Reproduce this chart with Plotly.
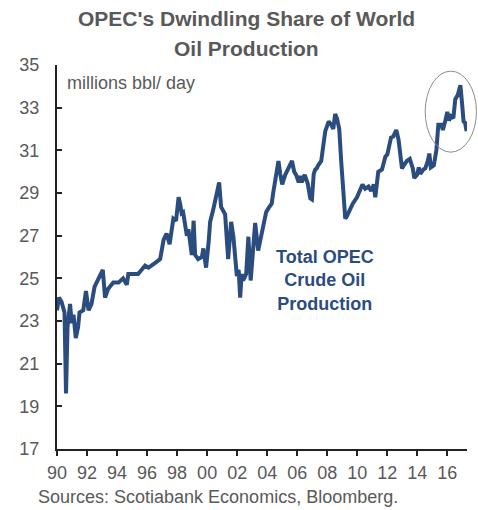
import plotly.graph_objects as go

years = [1990.0, 1990.13, 1990.3, 1990.5, 1990.6, 1990.7, 1990.87, 1990.98, 1991.1, 1991.25,
         1991.4, 1991.5, 1991.75, 1991.93, 1992.1, 1992.3, 1992.5, 1992.87, 1993.05, 1993.2,
         1993.4, 1993.75, 1994.1, 1994.4, 1994.65, 1994.75, 1995.2, 1995.4, 1995.87, 1996.1,
         1996.5, 1996.87, 1997.1, 1997.3, 1997.5, 1997.75, 1997.93, 1998.1, 1998.2, 1998.3,
         1998.4, 1998.65, 1998.75, 1998.87, 1998.98, 1999.1, 1999.2, 1999.4, 1999.65, 1999.75,
         1999.93, 2000.1, 2000.2, 2000.4, 2000.65, 2000.8, 2000.93, 2001.1, 2001.2, 2001.4,
         2001.6, 2001.75, 2001.98, 2002.1, 2002.2, 2002.3, 2002.4, 2002.6, 2002.75, 2002.9,
         2003.1, 2003.2, 2003.4, 2003.65, 2003.93, 2004.1, 2004.3, 2004.4, 2004.6, 2004.75,
         2004.87, 2005.0, 2005.2, 2005.4, 2005.65, 2005.8, 2005.93, 2006.1, 2006.2, 2006.3,
         2006.5, 2006.7, 2006.87, 2006.98, 2007.1, 2007.2, 2007.3, 2007.4, 2007.6, 2007.75,
         2007.87, 2008.1, 2008.27, 2008.4, 2008.53, 2008.65, 2008.8, 2008.93, 2009.1, 2009.2,
         2009.3, 2009.47, 2009.7, 2009.98, 2010.2, 2010.35, 2010.53, 2010.75, 2010.93, 2011.1,
         2011.2, 2011.4, 2011.65, 2011.87, 2012.0, 2012.25, 2012.4, 2012.6, 2012.75, 2012.98,
         2013.1, 2013.3, 2013.5, 2013.7, 2013.8, 2013.98, 2014.1, 2014.2, 2014.4, 2014.53,
         2014.7, 2014.8, 2014.9, 2015.1, 2015.27, 2015.4, 2015.6, 2015.7, 2015.87, 2016.0,
         2016.1, 2016.25, 2016.4, 2016.53, 2016.7, 2016.87, 2016.98, 2017.08, 2017.18, 2017.28]

opec_production = [23.5, 24.1, 23.9, 23.4, 19.6, 22.7, 23.8, 22.9, 23.3, 22.2,
                   22.7, 23.4, 23.5, 24.4, 23.5, 23.8, 24.6, 25.2, 25.4, 24.1,
                   24.5, 24.8, 24.8, 25.0, 24.7, 25.2, 25.2, 25.2, 25.6, 25.5,
                   25.7, 25.9, 26.8, 27.1, 26.6, 27.8, 27.7, 28.8, 28.5, 28.05,
                   28.1, 27.0, 27.3, 26.8, 26.1, 27.7, 26.1, 25.9, 26.0, 26.4,
                   25.5, 26.7, 27.65, 28.2, 29.0, 29.5, 28.35, 28.1, 28.0, 25.9,
                   27.65, 26.95, 25.1, 25.4, 24.1, 25.2, 24.9, 25.2, 26.95, 24.9,
                   26.5, 27.6, 26.3, 27.1, 28.1, 28.3, 28.5, 29.0, 29.8, 30.5,
                   29.9, 29.4, 29.85, 30.1, 30.5, 30.0, 29.85, 29.5, 29.8, 29.5,
                   29.85, 29.45, 28.75, 28.7, 29.9, 30.1, 30.15, 30.3, 30.5, 31.3,
                   31.9, 32.35, 32.2, 32.0, 32.7, 32.5, 32.0, 30.5, 28.7, 27.8,
                   27.9, 28.2, 28.5, 28.8, 29.2, 29.4, 29.2, 29.3, 29.1, 29.4,
                   28.8, 30.0, 30.1, 30.7, 30.8, 31.6, 31.65, 31.95, 31.5, 30.15,
                   30.3, 30.5, 30.6, 30.15, 29.7, 29.85, 30.2, 29.9, 30.1, 30.15,
                   30.5, 30.85, 30.2, 30.3, 31.0, 32.2, 32.2, 31.95, 32.4, 32.8,
                   32.4, 32.6, 32.5, 33.4, 33.6, 34.05, 33.2, 32.35, 32.3, 31.9]

x_tick_vals = [1990, 1992, 1994, 1996, 1998, 2000, 2002, 2004, 2006, 2008, 2010, 2012, 2014, 2016]
x_tick_text = ["90", "92", "94", "96", "98", "00", "02", "04", "06", "08", "10", "12", "14", "16"]
y_tick_vals = [17, 19, 21, 23, 25, 27, 29, 31, 33, 35]

FONT = "Liberation Sans, Arial, sans-serif"
GRAY = "#595959"
BLUE = "#2b4c7e"

fig = go.Figure()
fig.add_trace(go.Scatter(
    x=years, y=opec_production, mode="lines",
    line=dict(color=BLUE, width=4, shape="linear"),
    hoverinfo="skip", showlegend=False,
))

fig.update_layout(
    width=478, height=510,
    margin=dict(l=57, r=11, t=65, b=61),
    paper_bgcolor="white", plot_bgcolor="white",
    font=dict(family=FONT, size=18, color=GRAY),
    xaxis=dict(
        range=[1990, 2017.31], tickmode="array", tickvals=x_tick_vals, ticktext=x_tick_text,
        showline=True, linecolor="#222222", linewidth=2, ticks="outside", ticklen=5,
        tickcolor="#222222", tickwidth=1.5, showgrid=False, zeroline=False,
        tickfont=dict(family=FONT, size=18, color=GRAY), ticklabelstandoff=1,
    ),
    yaxis=dict(
        range=[17, 35], tickmode="array", tickvals=y_tick_vals,
        showline=True, linecolor="#222222", linewidth=2, ticks="inside", ticklen=5,
        tickcolor="#222222", tickwidth=1.5, showgrid=False, zeroline=False,
        tickfont=dict(family=FONT, size=18, color=GRAY), ticklabelstandoff=12,
    ),
    shapes=[dict(
        type="circle", xref="paper", yref="paper",
        x0=0.898, x1=1.023, y0=0.773, y1=0.984,
        line=dict(color="#8c8c8c", width=1), layer="above",
    )],
    annotations=[
        dict(text="<b>OPEC's Dwindling Share of World</b>", xref="paper", yref="paper",
             x=0.461, y=1.122, xanchor="center", yanchor="middle", showarrow=False,
             font=dict(family=FONT, size=21, color=GRAY)),
        dict(text="<b>Oil Production</b>", xref="paper", yref="paper",
             x=0.461, y=1.044, xanchor="center", yanchor="middle", showarrow=False,
             font=dict(family=FONT, size=21, color=GRAY)),
        dict(text="millions bbl/ day", xref="paper", yref="paper",
             x=0.02, y=0.953, xanchor="left", yanchor="middle", showarrow=False,
             font=dict(family=FONT, size=18, color=GRAY)),
        dict(text="<b>Total OPEC<br>Crude Oil<br>Production</b>", xref="paper", yref="paper",
             x=0.654, y=0.44, xanchor="center", yanchor="middle", showarrow=False,
             align="center", font=dict(family=FONT, size=18, color=BLUE)),
        dict(text="Sources: Scotiabank Economics, Bloomberg.", xref="paper", yref="paper",
             x=-0.052, y=-0.125, xanchor="left", yanchor="middle", showarrow=False,
             font=dict(family=FONT, size=18, color=GRAY)),
    ],
)

fig.write_html(
    "out.html",
    config={"displayModeBar": False},
    post_script="document.body.style.margin='0';document.body.style.padding='0';document.body.style.overflow='hidden';",
)
